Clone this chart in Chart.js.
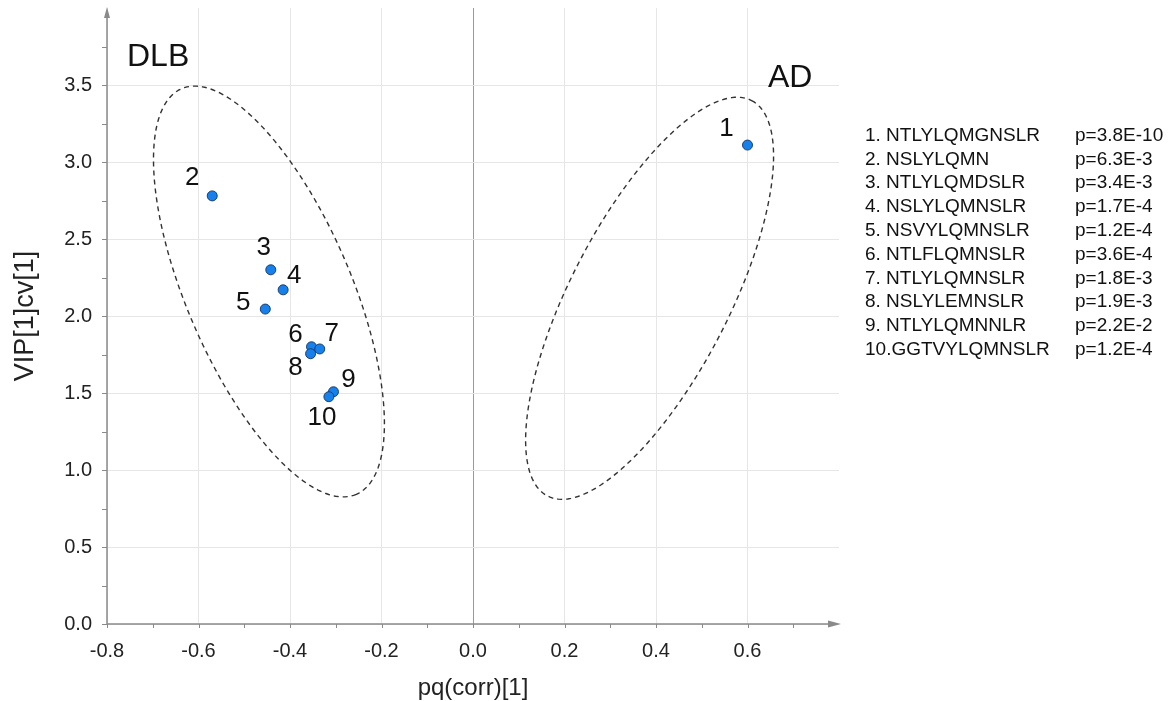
<!DOCTYPE html>
<html>
<head>
<meta charset="utf-8">
<script src="https://cdn.jsdelivr.net/npm/chart.js@4.4.1/dist/chart.umd.min.js"></script>
<style>
  html, body { margin: 0; padding: 0; background: #fff; }
  #wrap { width: 1172px; height: 701px; }
</style>
</head>
<body>
<div id="wrap"><canvas id="grafico" width="1172" height="701"></canvas></div>
<script>
// ---- dados ----
const peptideIds = ['1', '2', '3', '4', '5', '6', '7', '8', '9', '10'];
const pqCorr = [0.60, -0.57, -0.442, -0.415, -0.454, -0.353, -0.335, -0.355, -0.305, -0.315];
const vipCv = [3.11, 2.78, 2.30, 2.17, 2.045, 1.80, 1.786, 1.755, 1.508, 1.476];
const peptideSeqs = ['NTLYLQMGNSLR', 'NSLYLQMN', 'NTLYLQMDSLR', 'NSLYLQMNSLR', 'NSVYLQMNSLR',
                     'NTLFLQMNSLR', 'NTLYLQMNSLR', 'NSLYLEMNSLR', 'NTLYLQMNNLR', 'GGTVYLQMNSLR'];
const pValues = ['3.8E-10', '6.3E-3', '3.4E-3', '1.7E-4', '1.2E-4', '3.6E-4', '1.8E-3', '1.9E-3', '2.2E-2', '1.2E-4'];
const xTickValues = [-0.8, -0.6, -0.4, -0.2, 0.0, 0.2, 0.4, 0.6];
const yTickValues = [0.0, 0.5, 1.0, 1.5, 2.0, 2.5, 3.0, 3.5];

// grupos e suas elipses (centro + semi-eixos em unidades dos dados)
const groupNames = ['DLB', 'AD'];
const groupCenters = [[-0.446, 2.159], [0.386, 2.115]];
const groupAxisU = [[0.191, -1.317], [0.223, 1.284]];
const groupAxisV = [[-0.165, -0.212], [0.154, -0.236]];

// ---- layout / estilo ----
const FONTE = '"Liberation Sans", Arial, Helvetica, sans-serif';
const labelOffsets = [[-21, -16], [-20, -18], [-7, -22], [11, -14], [-22, -6],
                      [-16, -12], [12, -15], [-15, 14], [15, -12], [-7, 21]];
const groupLabelPos = [[127, 66], [768, 87]]; // esquerda, linha de base (px)

const pontos = pqCorr.map((x, i) => ({ x: x, y: vipCv[i] }));

// Plugin que desenha elipses, eixos com setas, rótulos e a lista lateral
const extras = {
    id: 'extras',
    beforeDatasetsDraw(chart) {
        const { ctx, scales: { x, y } } = chart;
        ctx.save();
        // elipses tracejadas
        ctx.strokeStyle = '#333';
        ctx.lineWidth = 1.4;
        ctx.setLineDash([5, 4]);
        groupCenters.forEach((c, g) => {
            const u = groupAxisU[g], v = groupAxisV[g];
            ctx.beginPath();
            for (let k = 0; k <= 180; k++) {
                const t = (k / 180) * Math.PI * 2;
                const dx = c[0] + u[0] * Math.cos(t) + v[0] * Math.sin(t);
                const dy = c[1] + u[1] * Math.cos(t) + v[1] * Math.sin(t);
                const px = x.getPixelForValue(dx), py = y.getPixelForValue(dy);
                if (k === 0) ctx.moveTo(px, py); else ctx.lineTo(px, py);
            }
            ctx.closePath();
            ctx.stroke();
        });
        ctx.setLineDash([]);

        // eixos com setas
        const x0 = x.getPixelForValue(-0.8), y0 = y.getPixelForValue(0);
        ctx.strokeStyle = '#8a8a8a';
        ctx.fillStyle = '#8a8a8a';
        ctx.lineWidth = 1.5;
        ctx.beginPath();
        ctx.moveTo(x0, y0); ctx.lineTo(830, y0);
        ctx.moveTo(x0, y0); ctx.lineTo(x0, 17);
        ctx.stroke();
        ctx.beginPath();
        ctx.moveTo(841, y0); ctx.lineTo(828, y0 - 3.5); ctx.lineTo(828, y0 + 3.5); ctx.closePath();
        ctx.fill();
        ctx.beginPath();
        ctx.moveTo(x0, 7); ctx.lineTo(x0 - 3, 18); ctx.lineTo(x0 + 3, 18); ctx.closePath();
        ctx.fill();

        // marcas menores
        ctx.lineWidth = 1;
        ctx.beginPath();
        for (let k = 0; k <= 15; k++) {
            const px = Math.round(x.getPixelForValue(-0.8 + k * 0.1)) + 0.5;
            ctx.moveTo(px, y0); ctx.lineTo(px, y0 + 4);
        }
        for (let k = 0; k <= 15; k++) {
            const py = Math.round(y.getPixelForValue(k * 0.25)) + 0.5;
            ctx.moveTo(x0, py); ctx.lineTo(x0 - 5, py);
        }
        ctx.stroke();
        ctx.restore();
    },
    afterDatasetsDraw(chart) {
        const { ctx, scales: { x, y } } = chart;
        ctx.save();
        ctx.fillStyle = '#111';
        ctx.textAlign = 'center';
        ctx.textBaseline = 'middle';
        ctx.font = '26px ' + FONTE;
        pontos.forEach((p, i) => {
            const px = x.getPixelForValue(p.x) + labelOffsets[i][0];
            const py = y.getPixelForValue(p.y) + labelOffsets[i][1];
            ctx.fillText(peptideIds[i], px, py);
        });

        // nomes dos grupos
        ctx.textAlign = 'left';
        ctx.textBaseline = 'alphabetic';
        ctx.font = '32px ' + FONTE;
        groupNames.forEach((nome, g) => ctx.fillText(nome, groupLabelPos[g][0], groupLabelPos[g][1]));

        // lista de peptídeos à direita
        ctx.font = '19px ' + FONTE;
        ctx.textBaseline = 'middle';
        peptideSeqs.forEach((seq, i) => {
            const yy = 135.5 + i * 23.8;
            const sep = peptideIds[i].length < 2 ? '. ' : '.';
            ctx.fillText(peptideIds[i] + sep + seq, 865, yy);
            ctx.fillText('p=' + pValues[i], 1075, yy);
        });
        ctx.restore();
    }
};

const ctx = document.getElementById('grafico');
new Chart(ctx, {
    type: 'scatter',
    data: {
        datasets: [{
            label: 'VIP',
            data: pontos,
            backgroundColor: '#1680ec',
            borderColor: '#1c3f6e',
            borderWidth: 1,
            pointRadius: 5,
            pointHoverRadius: 5
        }]
    },
    options: {
        responsive: false,
        animation: false,
        layout: { padding: { top: 8, right: 333, left: 0, bottom: 0 } },
        plugins: {
            legend: { display: false },
            tooltip: { enabled: false }
        },
        scales: {
            x: {
                type: 'linear',
                min: -0.8,
                max: 0.8,
                afterFit: s => { s.height = 77; s.paddingLeft = 0; s.paddingRight = 0; },
                afterBuildTicks: s => { s.ticks = xTickValues.map(v => ({ value: v })); },
                border: { display: false },
                grid: {
                    drawTicks: false,
                    color: c => (c.tick && Math.abs(c.tick.value) < 1e-9) ? '#9a9a9a' : '#e6e6e6'
                },
                ticks: {
                    padding: 15,
                    color: '#222',
                    font: { family: FONTE, size: 20 },
                    callback: v => Number(v).toFixed(1)
                },
                title: {
                    display: true,
                    text: 'pq(corr)[1]',
                    color: '#222',
                    font: { family: FONTE, size: 24, lineHeight: 1 },
                    padding: { top: 0, bottom: 1 }
                }
            },
            y: {
                type: 'linear',
                min: 0,
                max: 4.0,
                afterFit: s => { s.width = 107; s.paddingTop = 0; s.paddingBottom = 0; },
                afterBuildTicks: s => { s.ticks = yTickValues.map(v => ({ value: v })); },
                border: { display: false },
                grid: { drawTicks: false, color: '#e6e6e6' },
                ticks: {
                    padding: 15,
                    color: '#222',
                    font: { family: FONTE, size: 20 },
                    callback: v => Number(v).toFixed(1)
                },
                title: {
                    display: true,
                    text: 'VIP[1]cv[1]',
                    color: '#222',
                    font: { family: FONTE, size: 27, lineHeight: 1 },
                    padding: { top: 12, bottom: 0 }
                }
            }
        }
    },
    plugins: [extras]
});
</script>
</body>
</html>
